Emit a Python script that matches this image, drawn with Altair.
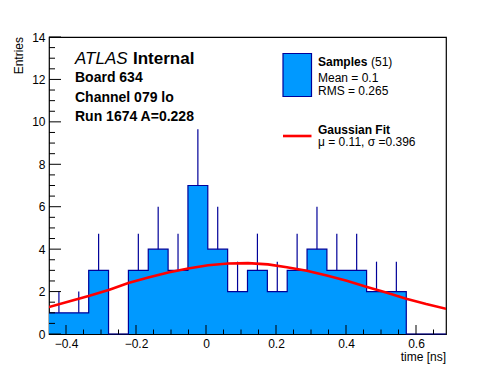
import altair as alt
import pandas as pd

# ---- data ----
x_lo, x_hi = -0.4486, 0.6857
bin_edges = [-0.4486, -0.3919, -0.3352, -0.2785, -0.2217, -0.1650, -0.1083, -0.0516,
             0.0051, 0.0618, 0.1185, 0.1753, 0.2320, 0.2887, 0.3454, 0.4021,
             0.4588, 0.5155, 0.5722, 0.6290, 0.6857]
counts = [1, 1, 3, 0, 3, 4, 3, 7, 4, 2, 3, 2, 3, 4, 3, 3, 2, 2, 0, 0]
errors = [1.0, 1.0, 1.73, 0.0, 1.73, 2.0, 1.73, 2.65, 2.0, 1.41, 1.73, 1.41, 1.73, 2.0,
          1.73, 1.73, 1.41, 1.41, 0.0, 0.0]

fit_x = [-0.449, -0.392, -0.333, -0.276, -0.222, -0.165, -0.108, -0.051, 0.006, 0.063,
         0.120, 0.177, 0.231, 0.288, 0.345, 0.402, 0.460, 0.517, 0.572, 0.629, 0.686]
fit_y = [1.27, 1.53, 1.80, 2.09, 2.40, 2.66, 2.90, 3.09, 3.24, 3.32,
         3.34, 3.28, 3.15, 2.98, 2.76, 2.51, 2.22, 1.94, 1.66, 1.41, 1.19]

x_major = [-0.4, -0.2, 0.0, 0.2, 0.4, 0.6]
x_minor = [-0.35, -0.3, -0.25, -0.15, -0.1, -0.05, 0.05, 0.1, 0.15, 0.25, 0.3, 0.35,
           0.45, 0.5, 0.55, 0.65]
y_major = [0, 2, 4, 6, 8, 10, 12, 14]
y_minor = [0.5, 1, 1.5, 2.5, 3, 3.5, 4.5, 5, 5.5, 6.5, 7, 7.5, 8.5, 9, 9.5, 10.5, 11,
           11.5, 12.5, 13, 13.5]

W, H = 397, 297
FONT = "Liberation Sans"
FILL = "#0099ff"
LINE = "#000099"

hist = pd.DataFrame({
    "lo": bin_edges[:-1], "hi": bin_edges[1:], "count": counts, "err": errors,
})
hist["center"] = (hist["lo"] + hist["hi"]) / 2
hist["top"] = hist["count"] + hist["err"]

outline = pd.DataFrame({"x": bin_edges, "y": counts + [0]})
errs = hist[hist["count"] > 0]
fit = pd.DataFrame({"x": fit_x, "y": fit_y})

xs = alt.Scale(domain=[x_lo, x_hi], nice=False, zero=False)
ys = alt.Scale(domain=[0, 14], nice=False)

xaxis = alt.Axis(values=x_major, ticks=False, domain=False, grid=False, title=None,
                 labelFont=FONT, labelFontSize=12, labelPadding=4, labelColor="black",
                 labelExpr="datum.value == 0 ? '0' : format(datum.value, '.1f')")
yaxis = alt.Axis(values=y_major, ticks=False, domain=False, grid=False, title=None,
                 labelFont=FONT, labelFontSize=12, labelPadding=4, labelColor="black")

fill = alt.Chart(outline).mark_area(color=FILL, opacity=1, interpolate="step-after").encode(
    x=alt.X("x:Q", scale=xs, axis=xaxis),
    y=alt.Y("y:Q", scale=ys, axis=yaxis))

step = alt.Chart(outline).mark_line(color=LINE, strokeWidth=1.2, interpolate="step-after").encode(
    x=alt.X("x:Q", scale=xs), y=alt.Y("y:Q", scale=ys))

ebar = alt.Chart(errs).mark_rule(color=LINE, strokeWidth=1.2).encode(
    x=alt.X("center:Q", scale=xs), y=alt.Y("count:Q", scale=ys), y2="top:Q")

curve = alt.Chart(fit).mark_line(color="#ff0000", strokeWidth=2.6, clip=True).encode(
    x=alt.X("x:Q", scale=xs), y=alt.Y("y:Q", scale=ys))

xt_major = alt.Chart(pd.DataFrame({"v": x_major})).mark_rule(color="black").encode(
    x=alt.X("v:Q", scale=xs), y=alt.value(H), y2=alt.value(H - 9))
xt_minor = alt.Chart(pd.DataFrame({"v": x_minor})).mark_rule(color="black").encode(
    x=alt.X("v:Q", scale=xs), y=alt.value(H), y2=alt.value(H - 4.5))
yt_major = alt.Chart(pd.DataFrame({"v": y_major})).mark_rule(color="black").encode(
    y=alt.Y("v:Q", scale=ys), x=alt.value(0), x2=alt.value(12))
yt_minor = alt.Chart(pd.DataFrame({"v": y_minor})).mark_rule(color="black").encode(
    y=alt.Y("v:Q", scale=ys), x=alt.value(0), x2=alt.value(6))


def label(text, x, y, size=12, weight="normal", style="normal", align="left",
          angle=0, baseline="alphabetic"):
    return alt.Chart(pd.DataFrame({"t": [text]})).mark_text(
        font=FONT, fontSize=size, fontWeight=weight, fontStyle=style, align=align,
        baseline=baseline, angle=angle, color="black").encode(
        text="t:N", x=alt.value(x), y=alt.value(y))


texts = [
    label("Entries", -30, 0, size=12, align="right", angle=270, baseline="middle"),
    label("time [ns]", W, 324, size=12, align="right"),
    label("ATLAS", 26, 27, size=17, style="italic"),
    label("Internal", 84, 27, size=17, weight="bold"),
    label("Board 634", 26, 45, size=14, weight="bold"),
    label("Channel 079 lo", 26, 65, size=14, weight="bold"),
    label("Run 1674 A=0.228", 26, 84, size=14, weight="bold"),
    label("Samples", 269, 29, size=12, weight="bold"),
    label("(51)", 322, 29, size=12),
    label("Mean = 0.1", 269, 44.5, size=12),
    label("RMS = 0.265", 269, 57.5, size=12),
    label("Gaussian Fit", 269, 96.5, size=12, weight="bold"),
    label("\u03bc = 0.11, \u03c3 =0.396", 269, 109, size=12),
]

leg_box = alt.Chart(pd.DataFrame({"k": ["Samples"]})).mark_rect(
    color=FILL, stroke=LINE, strokeWidth=1.2).encode(
    x=alt.value(234), x2=alt.value(262.5), y=alt.value(16.5), y2=alt.value(59.5))
leg_line = alt.Chart(pd.DataFrame({"k": ["Fit"]})).mark_rule(
    color="#ff0000", strokeWidth=2.6).encode(
    x=alt.value(234), x2=alt.value(262.5), y=alt.value(99))

chart = alt.layer(fill, step, ebar, curve, xt_major, xt_minor, yt_major, yt_minor,
                  leg_box, leg_line, *texts).properties(
    width=W, height=H,
    autosize=alt.AutoSizeParams(type="none"),
    padding={"left": 41, "top": 29, "right": 42, "bottom": 30},
    background="white",
).configure_view(stroke="black", strokeWidth=1.2)

chart.save("out.html", embed_options={"renderer": "svg", "actions": False})
